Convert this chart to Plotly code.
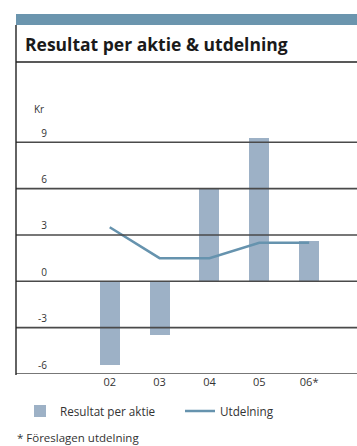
import plotly.graph_objects as go

years = ["02", "03", "04", "05", "06*"]
resultat = [-5.4, -3.5, 6.0, 9.3, 2.6]
utdelning = [3.5, 1.5, 1.5, 2.5, 2.5]
ytick_vals = [-6, -3, 0, 3, 6, 9]
ytick_text = ["-6", "-3", "0", "3", "6", "9"]

W, H = 357, 446
FONT = "Open Sans"
BAR_COLOR = "#9db1c6"
LINE_COLOR = "#6693ae"
BAND_COLOR = "#6b95ae"
GRID_COLOR = "#4a4a4a"

def px_x(p):
    return p / W

def px_y(p):
    return (H - p) / H

fig = go.Figure()
fig.add_trace(go.Bar(
    x=years, y=resultat, name="Resultat per aktie",
    marker=dict(color=BAR_COLOR, line=dict(width=0)), width=0.4,
))
fig.add_trace(go.Scatter(
    x=years, y=utdelning, name="Utdelning", mode="lines",
    line=dict(color=LINE_COLOR, width=2.5),
))

shapes = []
for v in ytick_vals:
    shapes.append(dict(type="line", xref="paper", yref="y", x0=px_x(16), x1=1,
                       y0=v, y1=v, line=dict(color=GRID_COLOR, width=1.6), layer="above"))
shapes.append(dict(type="rect", xref="paper", yref="paper", x0=px_x(16), x1=1,
                   y0=px_y(25), y1=px_y(14), fillcolor=BAND_COLOR, line=dict(width=0)))
shapes.append(dict(type="line", xref="paper", yref="paper", x0=px_x(16), x1=1,
                   y0=px_y(62), y1=px_y(62), line=dict(color="#222", width=1.4)))
shapes.append(dict(type="line", xref="paper", yref="paper", x0=px_x(16), x1=px_x(16),
                   y0=px_y(375), y1=px_y(25), line=dict(color="#222", width=1.4)))

annotations = [
    dict(text="<b>Resultat per aktie & utdelning</b>", xref="paper", yref="paper",
         x=px_x(23), y=px_y(44), xanchor="left", yanchor="middle", showarrow=False,
         font=dict(family=FONT, size=17.5, color="#1a1a1a")),
    dict(text="Kr", xref="paper", yref="paper", x=px_x(46), y=px_y(109),
         xanchor="right", yanchor="middle", showarrow=False,
         font=dict(family=FONT, size=10, color="#333")),
    dict(text="* Föreslagen utdelning", xref="paper", yref="paper", x=px_x(15), y=px_y(437),
         xanchor="left", yanchor="middle", showarrow=False,
         font=dict(family=FONT, size=11.5, color="#333")),
]

fig.update_layout(
    width=W, height=H, margin=dict(l=0, r=0, t=0, b=0),
    paper_bgcolor="white", plot_bgcolor="white",
    shapes=shapes, annotations=annotations,
    showlegend=True,
    legend=dict(orientation="h", x=px_x(20), y=px_y(411), xanchor="left", yanchor="middle",
                font=dict(family=FONT, size=11.7, color="#333"), entrywidth=115,
                bgcolor="rgba(0,0,0,0)", traceorder="normal"),
    xaxis=dict(domain=[px_x(16), 1], range=[-1.88, 4.96], type="category",
               showgrid=False, zeroline=False, showline=False, ticks="",
               automargin=False,
               tickfont=dict(family=FONT, size=11, color="#333")),
    yaxis=dict(domain=[px_y(374), px_y(62)], range=[-6, -6 + 312 / 15.446],
               anchor="free", position=px_x(47), automargin=False,
               tickvals=ytick_vals, ticktext=ytick_text, ticks="",
               ticklabelshift=-9, showgrid=False, zeroline=False, showline=False,
               tickfont=dict(family=FONT, size=10, color="#333")),
    bargap=0,
)

fig.write_html("out.html")
